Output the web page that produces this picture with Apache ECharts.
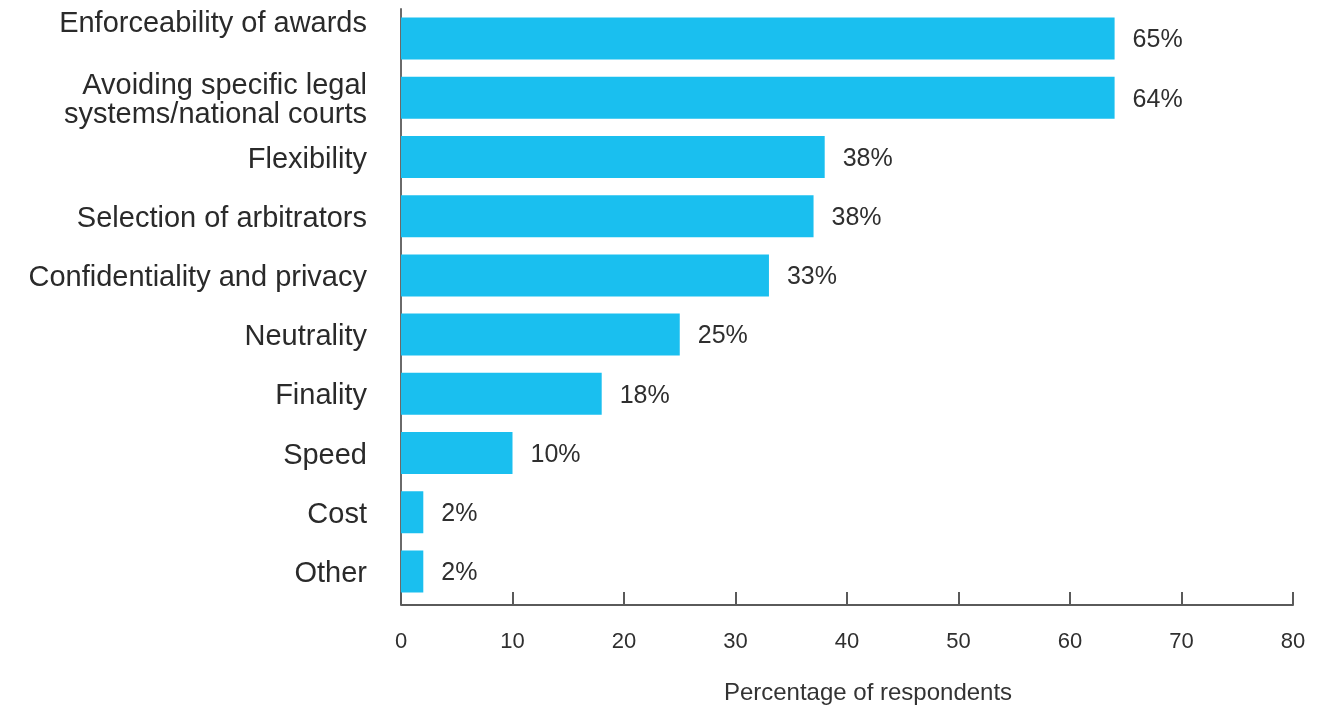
<!DOCTYPE html>
<html>
<head>
<meta charset="utf-8">
<script src="https://cdn.jsdelivr.net/npm/echarts@6/dist/echarts.min.js"></script>
<style>
html,body{margin:0;padding:0;background:#fff;}
#chart{width:1331px;height:706px;}
</style>
</head>
<body>
<div id="chart"></div>
<script>
var categories = [
  'Enforceability of awards',
  'Avoiding specific legal\nsystems/national courts',
  'Flexibility',
  'Selection of arbitrators',
  'Confidentiality and privacy',
  'Neutrality',
  'Finality',
  'Speed',
  'Cost',
  'Other'
];
var barValues = [64, 64, 38, 37, 33, 25, 18, 10, 2, 2];
var valueLabels = ['65%', '64%', '38%', '38%', '33%', '25%', '18%', '10%', '2%', '2%'];
var xTicks = [0, 10, 20, 30, 40, 50, 60, 70, 80];
var xAxisTitle = 'Percentage of respondents';

var FONT = '"Liberation Sans", Arial, Helvetica, sans-serif';
var chart = echarts.init(document.getElementById('chart'));

chart.setOption({
  animation: false,
  backgroundColor: '#ffffff',
  grid: { left: 401, right: 38, top: 9, bottom: 105, containLabel: false, outerBoundsMode: 'none' },
  xAxis: {
    type: 'value',
    min: xTicks[0],
    max: xTicks[xTicks.length - 1],
    interval: xTicks[1] - xTicks[0],
    offset: 4,
    name: xAxisTitle,
    nameLocation: 'middle',
    nameGap: 76,
    nameTextStyle: { fontFamily: FONT, fontSize: 24, color: '#333', padding: [0, 0, 0, 42] },
    axisLine: { show: true, lineStyle: { color: '#5a5a5a', width: 2 } },
    axisTick: { show: true, inside: true, length: 13, lineStyle: { color: '#5a5a5a', width: 2 } },
    axisLabel: { fontFamily: FONT, fontSize: 22, color: '#2f2f2f', margin: 26 },
    splitLine: { show: false }
  },
  yAxis: {
    type: 'category',
    inverse: true,
    data: categories,
    axisLine: { show: true, lineStyle: { color: '#6a6a6a', width: 2 } },
    axisTick: { show: false },
    axisLabel: {
      interval: 0,
      hideOverlap: false,
      fontFamily: FONT, fontSize: 29, color: '#2a2a2a', margin: 34,
      lineHeight: 29, align: 'right', padding: [5, 0, 0, 0],
      formatter: function (v, i) { return i === 0 ? v + '\n{g| }' : v; },
      rich: { g: { lineHeight: 34, fontSize: 10 } }
    }
  },
  series: [{
    type: 'bar',
    data: barValues,
    barWidth: 42,
    itemStyle: { color: '#1abfef' },
    label: {
      show: true,
      position: 'right',
      distance: 18,
      offset: [0, 2],
      fontFamily: FONT,
      fontSize: 25,
      color: '#2f2f2f',
      formatter: function (p) { return valueLabels[p.dataIndex]; }
    }
  }]
});
</script>
</body>
</html>
